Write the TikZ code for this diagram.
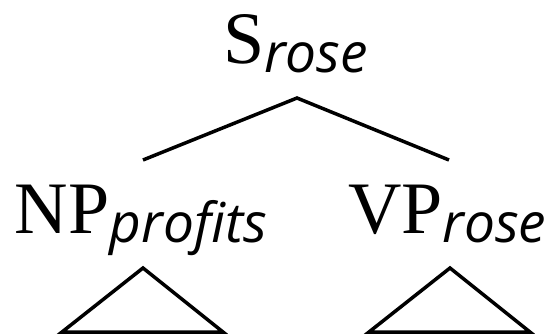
\documentclass[tikz,border=0pt]{standalone}
\usepackage{fontspec}
\newfontfamily\mainf{Liberation Serif}
\newfontfamily\subf{Open Sans}
\tikzset{
  lbl/.style={anchor=base west, inner sep=0pt, outer sep=0pt},
  edge/.style={line width=3.5pt, line join=miter},
}
\newcommand{\mainlbl}[2]{{\fontsize{74}{74}\selectfont\mainf #1}{\raisebox{-9pt}{\fontsize{55}{55}\selectfont\subf\itshape #2}}}
\begin{document}
\begin{tikzpicture}[x=1pt,y=-1pt]
\useasboundingbox (0,0) rectangle (555,335);
\node[lbl] (S) at (223,63) {\mainlbl{S}{rose}};
\node[lbl] (NP) at (15,233) {\mainlbl{NP}{profits}};
\node[lbl] (VP) at (348,233) {\mainlbl{VP}{rose}};
\coordinate (top) at (297,98);
\coordinate (l) at (143,160);
\coordinate (r) at (449,160);
\draw[edge] (l) -- (top) -- (r);
\coordinate (lt) at (143,268);
\coordinate (lbl1) at (62,332);
\coordinate (lbr) at (223,332);
\draw[edge] (lbl1) -- (lt) -- (lbr) -- cycle;
\coordinate (rt) at (450,268);
\coordinate (rbl) at (369,332);
\coordinate (rbr) at (530,332);
\draw[edge] (rbl) -- (rt) -- (rbr) -- cycle;
\end{tikzpicture}
\end{document}
